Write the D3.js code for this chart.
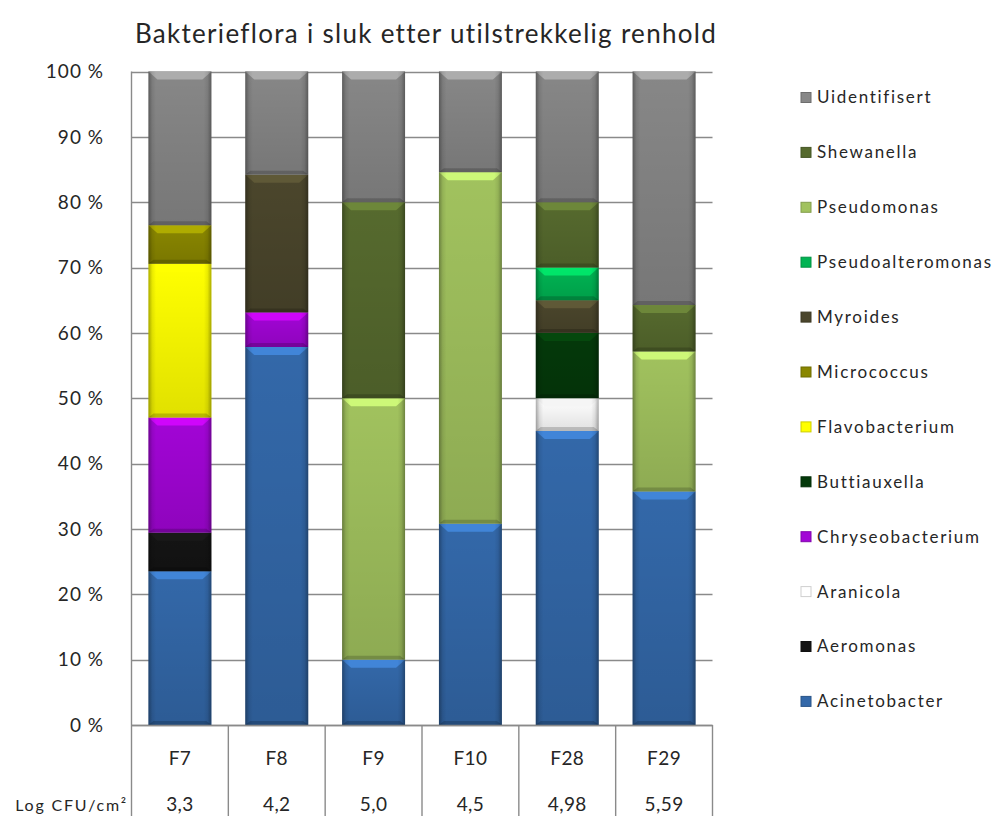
<!DOCTYPE html>
<html>
<head>
<meta charset="utf-8">
<script src="https://cdn.jsdelivr.net/npm/d3@7"></script>
<style>
  html, body { margin: 0; padding: 0; background: #fff; }
  svg { display: block; }
  text { font-family: Lato, "Open Sans", sans-serif; fill: #262626; }
</style>
</head>
<body>
<svg id="chart" width="994" height="816"></svg>
<script>
// Samples and their bacterial counts (log CFU/cm²)
const categories = ["F7", "F8", "F9", "F10", "F28", "F29"];
const logCFU = ["3,3", "4,2", "5,0", "4,5", "4,98", "5,59"];

// Genera in stacking order (bottom to top)
const genera = ["Acinetobacter", "Aeromonas", "Aranicola", "Chryseobacterium", "Buttiauxella",
  "Flavobacterium", "Micrococcus", "Myroides", "Pseudoalteromonas", "Pseudomonas",
  "Shewanella", "Uidentifisert"];

// Share of isolates (%) per sample, one array per genus
const acinetobacter     = [23.5, 57.9, 10.0, 30.8, 45.0, 35.7];
const aeromonas         = [ 5.9,  0,    0,    0,    0,    0  ];
const aranicola         = [ 0,    0,    0,    0,    5.0,  0  ];
const chryseobacterium  = [17.6,  5.3,  0,    0,    0,    0  ];
const buttiauxella      = [ 0,    0,    0,    0,   10.0,  0  ];
const flavobacterium    = [23.5,  0,    0,    0,    0,    0  ];
const micrococcus       = [ 5.9,  0,    0,    0,    0,    0  ];
const myroides          = [ 0,   21.1,  0,    0,    5.0,  0  ];
const pseudoalteromonas = [ 0,    0,    0,    0,    5.0,  0  ];
const pseudomonas       = [ 0,    0,   40.0, 53.8,  0,   21.4];
const shewanella        = [ 0,    0,   30.0,  0,   10.0,  7.1];
const uidentifisert     = [23.5, 15.8, 20.0, 15.4, 20.0, 35.7];

const yTicks = [0, 0.1, 0.2, 0.3, 0.4, 0.5, 0.6, 0.7, 0.8, 0.9, 1.0];

const seriesValues = [acinetobacter, aeromonas, aranicola, chryseobacterium, buttiauxella,
  flavobacterium, micrococcus, myroides, pseudoalteromonas, pseudomonas, shewanella, uidentifisert];

const colors = {
  Acinetobacter: "#3368a9",
  Aeromonas: "#141414",
  Aranicola: "#ffffff",
  Chryseobacterium: "#a205d6",
  Buttiauxella: "#04390a",
  Flavobacterium: "#ffff00",
  Micrococcus: "#8a8700",
  Myroides: "#4b462c",
  Pseudoalteromonas: "#00b453",
  Pseudomonas: "#a1c25e",
  Shewanella: "#566a2e",
  Uidentifisert: "#878787"
};

// Table rows for the stack layout
const rows = categories.map((c, i) => {
  const r = { category: c };
  genera.forEach((g, j) => { r[g] = seriesValues[j][i]; });
  return r;
});

const svg = d3.select("#chart");
const plotLeft = 131.5, plotRight = 712.5, plotTop = 71.5, plotBottom = 725;

const x = d3.scaleBand().domain(categories).range([plotLeft, plotRight])
  .paddingInner(0.35).paddingOuter(0.175);
const y = d3.scaleLinear().domain([0, 1]).range([plotBottom, plotTop]);

const stack = d3.stack().keys(genera).offset(d3.stackOffsetExpand);
const stacked = stack(rows);

const defs = svg.append("defs");
// Edge shading across the bar width
const side = defs.append("linearGradient").attr("id", "side").attr("x1", 0).attr("x2", 1).attr("y1", 0).attr("y2", 0);
[[0, 0.32], [0.06, 0.08], [0.12, 0], [0.88, 0], [0.94, 0.08], [1, 0.32]].forEach(([o, a]) =>
  side.append("stop").attr("offset", o).attr("stop-color", "#000").attr("stop-opacity", a));
// Slight darkening towards the bottom of each segment
const vert = defs.append("linearGradient").attr("id", "vert").attr("x1", 0).attr("x2", 0).attr("y1", 0).attr("y2", 1);
[[0, 0], [1, 0.12]].forEach(([o, a]) =>
  vert.append("stop").attr("offset", o).attr("stop-color", "#000").attr("stop-opacity", a));

// Gridlines
svg.append("g").selectAll("line").data(yTicks).join("line")
  .attr("x1", plotLeft).attr("x2", plotRight)
  .attr("y1", d => Math.round(y(d)) + 0.5).attr("y2", d => Math.round(y(d)) + 0.5)
  .attr("stroke", "#8a8a8a").attr("stroke-width", 1.4);

// Left axis line
svg.append("line").attr("x1", plotLeft).attr("x2", plotLeft).attr("y1", plotTop).attr("y2", plotBottom)
  .attr("stroke", "#8a8a8a").attr("stroke-width", 1.4);

// Y tick labels
svg.append("g").selectAll("text").data(yTicks).join("text")
  .attr("x", 104).attr("y", d => y(d)).attr("dy", "0.35em")
  .attr("text-anchor", "end").attr("font-size", 19).attr("letter-spacing", 1)
  .text(d => d3.format(".0f")(d * 100) + " %");

// Bars
const segs = [];
stacked.forEach(s => {
  s.forEach((d, i) => {
    if (d[1] - d[0] > 1e-6) segs.push({ key: s.key, cat: categories[i], y0: d[0], y1: d[1] });
  });
});

const bw = x.bandwidth();
const segG = svg.append("g").selectAll("g").data(segs).join("g")
  .attr("transform", d => `translate(${x(d.cat)},${y(d.y1)})`);

segG.append("rect")
  .attr("width", bw).attr("height", d => y(d.y0) - y(d.y1))
  .attr("fill", d => colors[d.key]);
segG.append("rect")
  .attr("width", bw).attr("height", d => y(d.y0) - y(d.y1))
  .attr("fill", "url(#vert)");
// Top bevel highlight
segG.append("path")
  .attr("d", d => {
    const h = Math.min(8, (y(d.y0) - y(d.y1)) * 0.4), k = 9;
    return `M0,0H${bw}L${bw - k},${h}H${k}Z`;
  })
  .attr("fill", d => {
    const c = d3.color(colors[d.key]);
    return d.key === "Aranicola" ? "#f4f4f4" : c.brighter(0.75).formatHex();
  })
  .attr("opacity", 0.9);
// Bottom bevel shade
segG.append("path")
  .attr("d", d => {
    const hh = y(d.y0) - y(d.y1), h = Math.min(4, hh * 0.2), k = 5;
    return `M0,${hh}H${bw}L${bw - k},${hh - h}H${k}Z`;
  })
  .attr("fill", "#000").attr("opacity", 0.18);
segG.append("rect")
  .attr("width", bw).attr("height", d => y(d.y0) - y(d.y1))
  .attr("fill", "url(#side)");

// Title
svg.append("text").attr("x", 426).attr("y", 43).attr("text-anchor", "middle")
  .attr("font-size", 26).attr("letter-spacing", 1.3)
  .text("Bakterieflora i sluk etter utilstrekkelig renhold");

// Data table under the axis
const edges = categories.map(c => x(c) - x.step() * 0.175).concat([plotRight]);
svg.append("g").selectAll("line").data(edges).join("line")
  .attr("x1", d => d).attr("x2", d => d).attr("y1", plotBottom).attr("y2", 816)
  .attr("stroke", "#8a8a8a").attr("stroke-width", 1.4);
svg.append("line").attr("x1", plotLeft).attr("x2", plotRight).attr("y1", plotBottom + 0.5).attr("y2", plotBottom + 0.5)
  .attr("stroke", "#8a8a8a").attr("stroke-width", 1.4);

svg.append("g").selectAll("text").data(categories).join("text")
  .attr("x", d => x(d) + bw / 2).attr("y", 758).attr("dy", "0.35em")
  .attr("text-anchor", "middle").attr("font-size", 19).attr("letter-spacing", 0.4).text(d => d);
svg.append("g").selectAll("text").data(logCFU).join("text")
  .attr("x", (d, i) => x(categories[i]) + bw / 2).attr("y", 804).attr("dy", "0.35em")
  .attr("text-anchor", "middle").attr("font-size", 19).attr("letter-spacing", 0.4).text(d => d);
svg.append("text").attr("x", 128).attr("y", 805).attr("dy", "0.35em")
  .attr("text-anchor", "end").attr("font-size", 16).attr("letter-spacing", 1.8).attr("fill", "#2a1a40")
  .text("Log CFU/cm\u00b2");

// Legend (top entry = top of the stack)
const legendOrder = genera.slice().reverse();
const lg = svg.append("g").selectAll("g").data(legendOrder).join("g")
  .attr("transform", (d, i) => `translate(801,${97.5 + i * 54.9})`);
lg.append("rect").attr("x", 0).attr("y", -5).attr("width", 10).attr("height", 10)
  .attr("fill", d => colors[d])
  .attr("stroke", d => d === "Aranicola" ? "#cfcfcf" : d3.color(colors[d]).darker(0.6).formatHex())
  .attr("stroke-width", 1);
lg.append("text").attr("x", 16).attr("dy", "0.35em").attr("font-size", 17)
  .attr("letter-spacing", 1.7).attr("fill", "#1a1a1a").text(d => d);
</script>
</body>
</html>
